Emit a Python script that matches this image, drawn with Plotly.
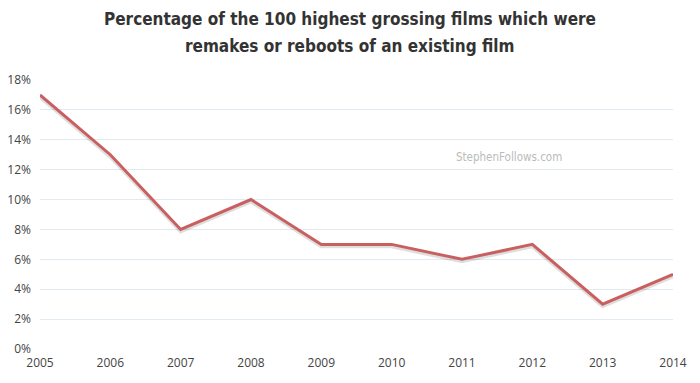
import plotly.graph_objects as go

years = [2005, 2006, 2007, 2008, 2009, 2010, 2011, 2012, 2013, 2014]
pct = [17, 13, 8, 10, 7, 7, 6, 7, 3, 5]
y_ticks = [0, 2, 4, 6, 8, 10, 12, 14, 16, 18]
y_labels = [f"{v}%" for v in y_ticks]

W, H = 700, 383
L, R, T, B = 40, 27, 80, 34
pw, ph = W - L - R, H - T - B

def px(x):
    return (x - L) / pw

def py(y):
    return (H - B - y) / ph

fig = go.Figure()
fig.add_trace(go.Scatter(x=years, y=[v - 0.13 for v in pct], mode="lines",
                         line=dict(color="rgba(0,0,0,0.13)", width=4),
                         hoverinfo="skip", showlegend=False))
fig.add_trace(go.Scatter(x=years, y=pct, mode="lines",
                         line=dict(color="#c9605f", width=3),
                         showlegend=False))

title_font = dict(family="DejaVu Sans Condensed, DejaVu Sans, sans-serif", size=17, color="#333333")
fig.update_layout(
    width=W, height=H,
    margin=dict(l=L, r=R, t=T, b=B),
    paper_bgcolor="white", plot_bgcolor="white",
    xaxis=dict(range=[2005, 2014], tickmode="array", tickvals=years,
               ticktext=[str(y) for y in years], showgrid=False, zeroline=False,
               showline=False, ticks="", automargin=False, ticklabelstandoff=5,
               tickfont=dict(family="Open Sans, sans-serif", size=12, color="#444444")),
    yaxis=dict(range=[0, 18], tickmode="array", tickvals=y_ticks, ticktext=y_labels,
               showgrid=True, gridcolor="#e1e9f1", gridwidth=1, zeroline=False,
               showline=False, ticks="", ticklabelstandoff=8, automargin=False,
               tickfont=dict(family="Open Sans, sans-serif", size=12, color="#444444")),
    annotations=[
        dict(text="<b>Percentage of the 100 highest grossing films which were</b>",
             x=px(350), y=py(19), xref="paper", yref="paper", showarrow=False,
             xanchor="center", yanchor="middle", font=title_font),
        dict(text="<b>remakes or reboots of an existing film</b>",
             x=px(350), y=py(46), xref="paper", yref="paper", showarrow=False,
             xanchor="center", yanchor="middle", font=title_font),
        dict(text="StephenFollows.com", x=px(509), y=py(157), xref="paper", yref="paper",
             showarrow=False, xanchor="center", yanchor="middle",
             font=dict(family="DejaVu Sans Condensed, sans-serif", size=11.5, color="#bbbbbb")),
    ],
)
fig.write_html("out.html", config={"displayModeBar": False},
               post_script="document.body.style.margin='0';")
